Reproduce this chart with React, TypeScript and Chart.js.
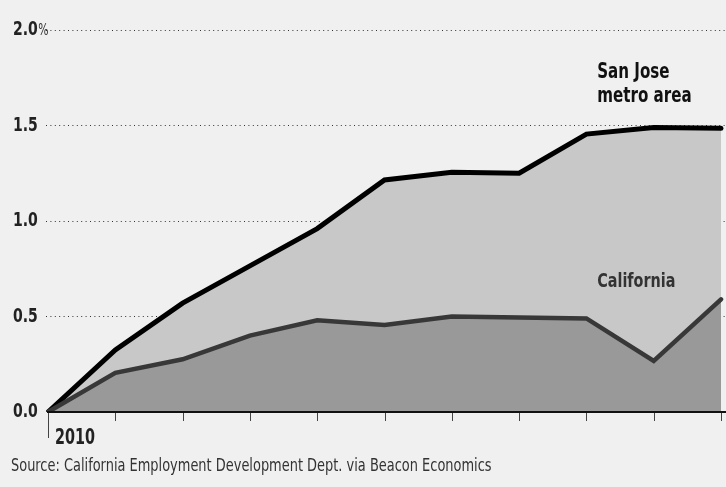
import React, { useEffect, useRef } from "react";
import { Chart, registerables } from "chart.js";

Chart.register(...registerables);

const periods = ["2010", "", "", "", "", "", "", "", "", "", ""];
const sanJose = [0, 0.325, 0.57, 0.765, 0.96, 1.215, 1.255, 1.25, 1.455, 1.49, 1.485];
const california = [0, 0.205, 0.276, 0.4, 0.48, 0.455, 0.5, 0.495, 0.49, 0.267, 0.59];
const yTicks = [0, 0.5, 1.0, 1.5, 2.0];
const seriesLabels = { sanJose: ["San Jose", "metro area"], california: ["California"] };
const sourceText = "Source: California Employment Development Dept. via Beacon Economics";

const FONT = "'DejaVu Sans Condensed', 'DejaVu Sans', sans-serif";

function txt(ctx: any, s: string, x: number, y: number, font: string, color: string, sx: number, baseline = "alphabetic") {
  ctx.save();
  ctx.translate(x, y);
  ctx.scale(sx, 1);
  ctx.font = font;
  ctx.fillStyle = color;
  ctx.textAlign = "left";
  ctx.textBaseline = baseline;
  ctx.fillText(s, 0, 0);
  const w = ctx.measureText(s).width * sx;
  ctx.restore();
  return w;
}

const decorPlugin = {
  id: "decor",
  afterDraw(chart: any) {
    const { ctx } = chart;
    const xs = chart.scales.x;
    const ys = chart.scales.y;
    const y0 = ys.getPixelForValue(0);
    ctx.save();
    // baseline
    ctx.strokeStyle = "#111";
    ctx.lineWidth = 2;
    ctx.beginPath();
    ctx.moveTo(xs.getPixelForValue(0) - 1, y0);
    ctx.lineTo(chart.width, y0);
    ctx.stroke();
    // ticks
    ctx.strokeStyle = "#444";
    ctx.lineWidth = 1;
    periods.forEach((p, i) => {
      const x = Math.round(xs.getPixelForValue(i)) + 0.5;
      ctx.beginPath();
      ctx.moveTo(x, y0 + 1);
      ctx.lineTo(x, y0 + (i === 0 ? 26 : 9));
      ctx.stroke();
      if (p) {
        txt(ctx, p, x + 6.5, y0 + 32, `bold 21px ${FONT}`, "#222", 0.76);
      }
    });
    // y labels
    yTicks.forEach((v) => {
      const yy = ys.getPixelForValue(v);
      const w = txt(ctx, v.toFixed(1), 13, yy, `bold 20px ${FONT}`, "#222", 0.78, "middle");
      if (v === 2) {
        txt(ctx, "%", 13 + w + 0.5, yy + 1, `15px ${FONT}`, "#333", 0.8, "middle");
      }
    });
    // series labels
    const lx = xs.getPixelForValue(8.16);
    txt(ctx, seriesLabels.sanJose[0], lx, ys.getPixelForValue(1.75), `bold 21px ${FONT}`, "#111", 0.8);
    txt(ctx, seriesLabels.sanJose[1], lx, ys.getPixelForValue(1.625), `bold 21px ${FONT}`, "#111", 0.8);
    txt(ctx, seriesLabels.california[0], lx, ys.getPixelForValue(0.652), `bold 20px ${FONT}`, "#333", 0.8);
    // source
    txt(ctx, sourceText, 11, 471, `18px ${FONT}`, "#333", 0.8);
    ctx.restore();
  },
};

export default function App() {
  const ref = useRef<HTMLCanvasElement | null>(null);
  useEffect(() => {
    document.body.style.margin = "0";
    document.body.style.background = "#f0f0f0";
    const canvas = ref.current!;
    const chart = new Chart(canvas, {
      type: "line",
      data: {
        datasets: [
          {
            label: "California",
            data: california.map((v, i) => ({ x: i, y: v })),
            borderColor: "#383838",
            backgroundColor: "#999999",
            borderWidth: 4.5,
            fill: "origin",
            pointRadius: 0,
            tension: 0,
            borderCapStyle: "round",
          },
          {
            label: "San Jose metro area",
            data: sanJose.map((v, i) => ({ x: i, y: v })),
            borderColor: "#000000",
            backgroundColor: "#c8c8c8",
            borderWidth: 5,
            fill: "origin",
            pointRadius: 0,
            tension: 0,
            borderCapStyle: "round",
          },
        ],
      },
      options: {
        animation: false,
        responsive: false,
        layout: { padding: { left: 13, top: 30, right: 0, bottom: 75 } },
        plugins: { legend: { display: false }, tooltip: { enabled: false } },
        scales: {
          x: {
            type: "linear",
            min: -0.03,
            max: 10.074,
            display: false,
          },
          y: {
            min: 0,
            max: 2,
            z: 1,
            afterFit: (s: any) => {
              s.width = 33;
            },
            afterBuildTicks: (s: any) => {
              s.ticks = yTicks.map((v) => ({ value: v }));
            },
            border: { display: false, dash: [1, 3.4] },
            grid: {
              drawTicks: false,
              color: (c: any) => (c.tick && c.tick.value === 0 ? "rgba(0,0,0,0)" : "#333"),
              lineWidth: 1,
            },
            ticks: { display: false },
          },
        },
      },
      plugins: [decorPlugin],
    });
    return () => chart.destroy();
  }, []);
  return (
    <div style={{ width: 726, height: 487, background: "#f0f0f0" }}>
      <canvas ref={ref} width={726} height={487} style={{ display: "block" }} />
    </div>
  );
}
